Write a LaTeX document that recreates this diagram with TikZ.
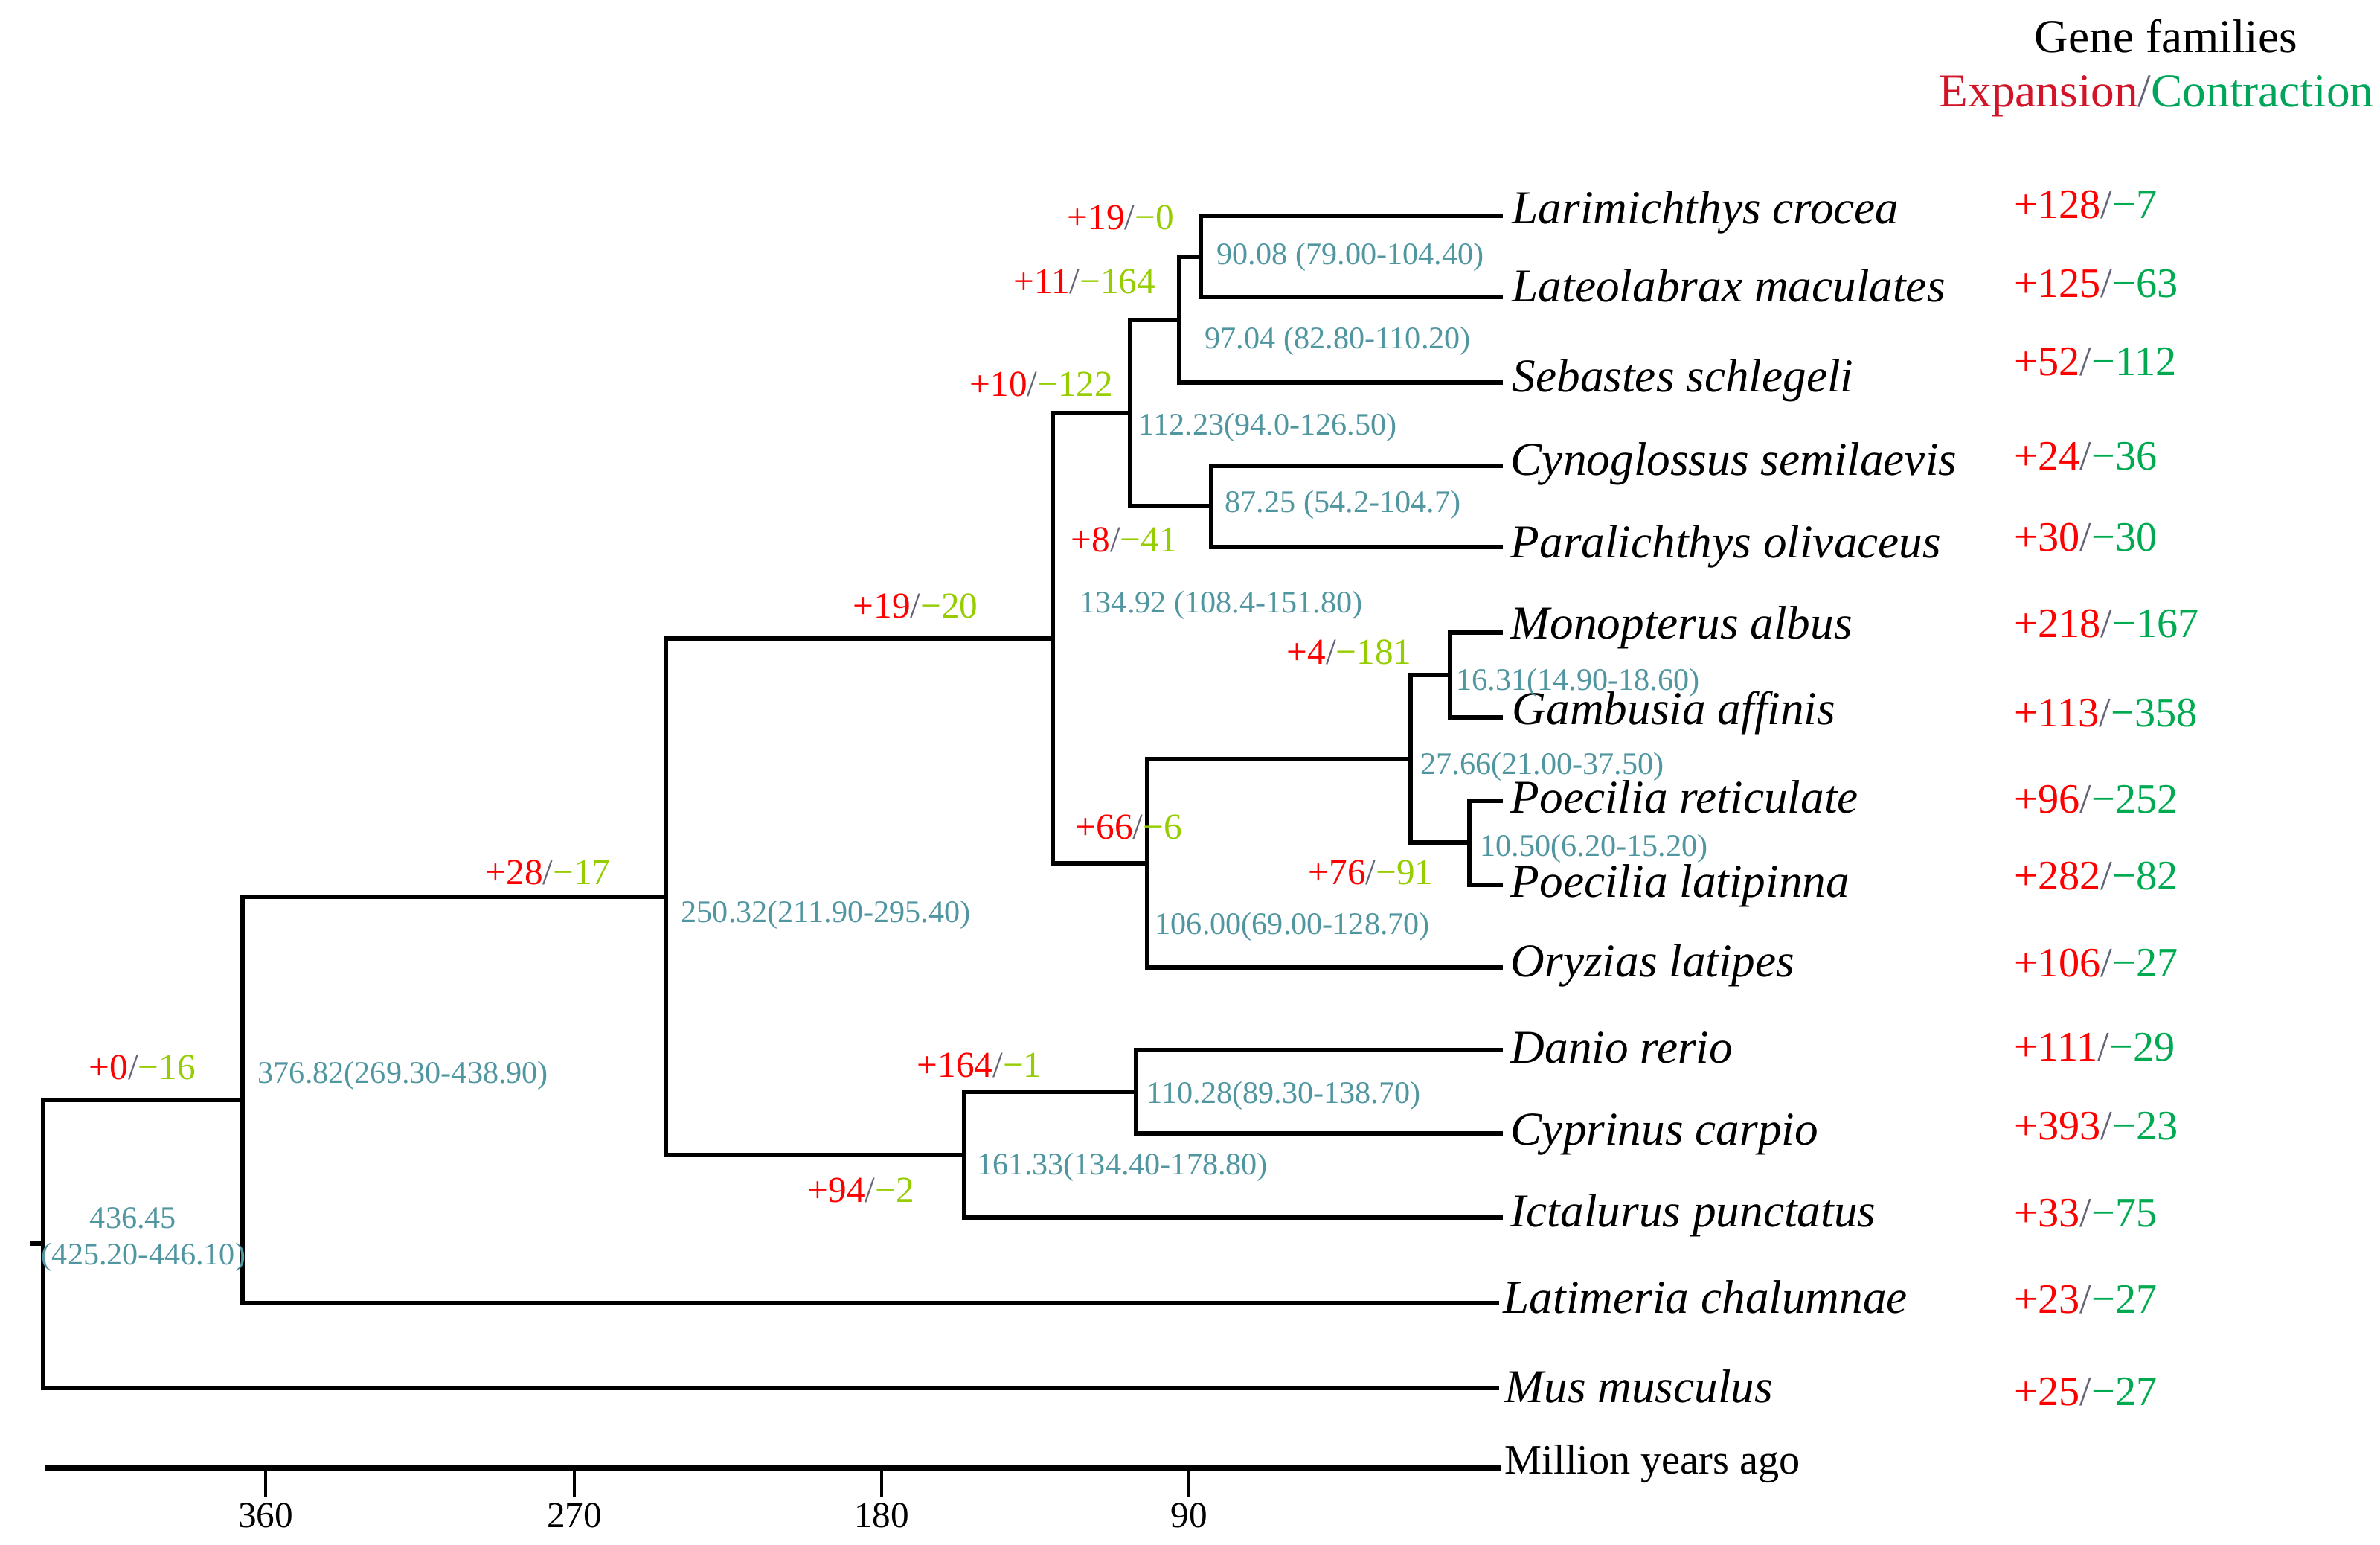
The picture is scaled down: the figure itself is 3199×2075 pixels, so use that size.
\documentclass[tikz,border=0pt]{standalone}
\usepackage{fontspec}
\setmainfont{Liberation Serif}
\definecolor{ageblue}{RGB}{80,150,160}
\definecolor{gainred}{RGB}{255,0,0}
\definecolor{lossgreen}{RGB}{150,205,0}
\definecolor{colgreen}{RGB}{0,170,80}
\definecolor{hdrred}{RGB}{210,20,40}
\definecolor{hdrgreen}{RGB}{0,165,90}
\definecolor{slashgray}{RGB}{100,100,120}
\newcommand{\gainloss}[2]{\textcolor{gainred}{+#1}\textcolor{slashgray}{/}\textcolor{lossgreen}{−#2}}
\newcommand{\colgl}[2]{\textcolor{gainred}{+#1}\textcolor{slashgray}{/}\textcolor{colgreen}{−#2}}
\tikzset{
  branch/.style={line width=1.7pt, line join=miter},
  tipname/.style={anchor=base west, inner sep=0pt, font=\fontsize{18}{20}\selectfont\itshape},
  colval/.style={anchor=base west, inner sep=0pt, font=\fontsize{16}{18}\selectfont},
  glabel/.style={anchor=base west, inner sep=0pt, font=\fontsize{14}{16}\selectfont},
  agelabel/.style={anchor=base west, inner sep=0pt, text=ageblue, font=\fontsize{12}{14}\selectfont},
  header/.style={anchor=base west, inner sep=0pt, font=\fontsize{18}{20}\selectfont},
  ticklabel/.style={anchor=base, inner sep=0pt, font=\fontsize{14}{16}\selectfont},
}
\begin{document}
\begin{tikzpicture}[x=0.01cm, y=-0.01cm]
\path[use as bounding box, fill=white] (0,0) rectangle (3199,2075);

% tip ends
\coordinate (t1) at (2020,290);
\coordinate (t2) at (2020,399);
\coordinate (t3) at (2020,514);
\coordinate (t4) at (2020,626);
\coordinate (t5) at (2020,735);
\coordinate (t6) at (2020,850);
\coordinate (t7) at (2020,964);
\coordinate (t8) at (2020,1076);
\coordinate (t9) at (2020,1189);
\coordinate (t10) at (2020,1300);
\coordinate (t11) at (2020,1411);
\coordinate (t12) at (2020,1523);
\coordinate (t13) at (2020,1636);
\coordinate (t14) at (2015,1751);
\coordinate (t15) at (2015,1865);

% internal nodes
\coordinate (nA) at (1614,345);
\coordinate (nB) at (1585,430);
\coordinate (nD) at (1628,680);
\coordinate (nC) at (1519,555);
\coordinate (nI) at (1949,907);
\coordinate (nJ) at (1975,1132);
\coordinate (nH) at (1896,1020);
\coordinate (nF) at (1542,1160);
\coordinate (nE) at (1415,858);
\coordinate (nN) at (1527,1467);
\coordinate (nM) at (1296,1552);
\coordinate (nL) at (895,1205);
\coordinate (nK) at (326,1478);
\coordinate (nR) at (58,1671);
\coordinate (root) at (40,1671);

% branches
\draw[branch] (nA) |- (t1);
\draw[branch] (nA) |- (t2);
\draw[branch] (nB) |- (nA);
\draw[branch] (nB) |- (t3);
\draw[branch] (nD) |- (t4);
\draw[branch] (nD) |- (t5);
\draw[branch] (nC) |- (nB);
\draw[branch] (nC) |- (nD);
\draw[branch] (nI) |- (t6);
\draw[branch] (nI) |- (t7);
\draw[branch] (nJ) |- (t8);
\draw[branch] (nJ) |- (t9);
\draw[branch] (nH) |- (nI);
\draw[branch] (nH) |- (nJ);
\draw[branch] (nF) |- (nH);
\draw[branch] (nF) |- (t10);
\draw[branch] (nE) |- (nC);
\draw[branch] (nE) |- (nF);
\draw[branch] (nN) |- (t11);
\draw[branch] (nN) |- (t12);
\draw[branch] (nM) |- (nN);
\draw[branch] (nM) |- (t13);
\draw[branch] (nL) |- (nE);
\draw[branch] (nL) |- (nM);
\draw[branch] (nK) |- (nL);
\draw[branch] (nK) |- (t14);
\draw[branch] (nR) |- (nK);
\draw[branch] (nR) |- (t15);
\draw[branch] (root) -- (nR);

% tip names
\node[tipname] (s1) at (2032,300) {Larimichthys crocea};
\node[tipname] (s2) at (2032,405) {Lateolabrax maculates};
\node[tipname] (s3) at (2032,526) {Sebastes schlegeli};
\node[tipname] (s4) at (2030,638) {Cynoglossus semilaevis};
\node[tipname] (s5) at (2030,749) {Paralichthys olivaceus};
\node[tipname] (s6) at (2030,858) {Monopterus albus};
\node[tipname] (s7) at (2032,973) {Gambusia affinis};
\node[tipname] (s8) at (2030,1092) {Poecilia reticulate};
\node[tipname] (s9) at (2030,1205) {Poecilia latipinna};
\node[tipname] (s10) at (2030,1312) {Oryzias latipes};
\node[tipname] (s11) at (2030,1428) {Danio rerio};
\node[tipname] (s12) at (2030,1538) {Cyprinus carpio};
\node[tipname] (s13) at (2030,1648) {Ictalurus punctatus};
\node[tipname] (s14) at (2020,1764) {Latimeria chalumnae};
\node[tipname] (s15) at (2022,1884) {Mus musculus};

% header
\node[header] (h1) at (2734,70) {Gene families};
\node[header] (h2) at (2606,143) {\textcolor{hdrred}{Expansion}\textcolor{slashgray}{/}\textcolor{hdrgreen}{Contraction}};

% right column values
\node[colval] (v1) at (2707,293) {\colgl{128}{7}};
\node[colval] (v2) at (2707,399) {\colgl{125}{63}};
\node[colval] (v3) at (2707,504) {\colgl{52}{112}};
\node[colval] (v4) at (2707,631) {\colgl{24}{36}};
\node[colval] (v5) at (2707,740) {\colgl{30}{30}};
\node[colval] (v6) at (2707,856) {\colgl{218}{167}};
\node[colval] (v7) at (2707,976) {\colgl{113}{358}};
\node[colval] (v8) at (2707,1092) {\colgl{96}{252}};
\node[colval] (v9) at (2707,1195) {\colgl{282}{82}};
\node[colval] (v10) at (2707,1312) {\colgl{106}{27}};
\node[colval] (v11) at (2707,1425) {\colgl{111}{29}};
\node[colval] (v12) at (2707,1531) {\colgl{393}{23}};
\node[colval] (v13) at (2707,1648) {\colgl{33}{75}};
\node[colval] (v14) at (2707,1764) {\colgl{23}{27}};
\node[colval] (v15) at (2707,1888) {\colgl{25}{27}};

% gain/loss labels on branches
\node[glabel] (g1) at (1434,308) {\gainloss{19}{0}};
\node[glabel] (g2) at (1362,394) {\gainloss{11}{164}};
\node[glabel] (g3) at (1303,532) {\gainloss{10}{122}};
\node[glabel] (g4) at (1439,741) {\gainloss{8}{41}};
\node[glabel] (g5) at (1146,830) {\gainloss{19}{20}};
\node[glabel] (g6) at (1729,892) {\gainloss{4}{181}};
\node[glabel] (g7) at (1445,1127) {\gainloss{66}{6}};
\node[glabel] (g8) at (1758,1188) {\gainloss{76}{91}};
\node[glabel] (g9) at (652,1188) {\gainloss{28}{17}};
\node[glabel] (g10) at (119,1450) {\gainloss{0}{16}};
\node[glabel] (g11) at (1232,1447) {\gainloss{164}{1}};
\node[glabel] (g12) at (1085,1615) {\gainloss{94}{2}};

% divergence times
\node[agelabel] (a1) at (1635,355) {90.08 (79.00-104.40)};
\node[agelabel] (a2) at (1619,468) {97.04 (82.80-110.20)};
\node[agelabel] (a3) at (1530,584) {112.23(94.0-126.50)};
\node[agelabel] (a4) at (1646,688) {87.25 (54.2-104.7)};
\node[agelabel] (a5) at (1451,823) {134.92 (108.4-151.80)};
\node[agelabel] (a6) at (1957,927) {16.31(14.90-18.60)};
\node[agelabel] (a7) at (1909,1040) {27.66(21.00-37.50)};
\node[agelabel] (a8) at (1989,1150) {10.50(6.20-15.20)};
\node[agelabel] (a9) at (1552,1255) {106.00(69.00-128.70)};
\node[agelabel] (a10) at (915,1239) {250.32(211.90-295.40)};
\node[agelabel] (a11) at (346,1455) {376.82(269.30-438.90)};
\node[agelabel, anchor=base] (a12) at (179,1650) {436.45};
\node[agelabel, anchor=base] (a12b) at (193,1699) {(425.20-446.10)};
\node[agelabel] (a13) at (1313,1578) {161.33(134.40-178.80)};
\node[agelabel] (a14) at (1541,1482) {110.28(89.30-138.70)};

% time axis
\coordinate (ax0) at (60,1972);
\coordinate (ax1) at (2017,1972);
\draw[line width=2pt] (ax0) -- (ax1);
\node[anchor=base west, inner sep=0pt, font=\fontsize{16}{18}\selectfont] (mya) at (2022,1980) {Million years ago};
\foreach \xx/\lab in {357/360, 772/270, 1185/180, 1598/90}{
  \coordinate (tk\lab) at (\xx,1972);
  \coordinate (tb\lab) at (\xx,2012);
  \draw[line width=0.9pt] (tk\lab) -- (tb\lab);
  \node[ticklabel] (tl\lab) at (\xx,2052) {\lab};
}
\end{tikzpicture}
\end{document}
